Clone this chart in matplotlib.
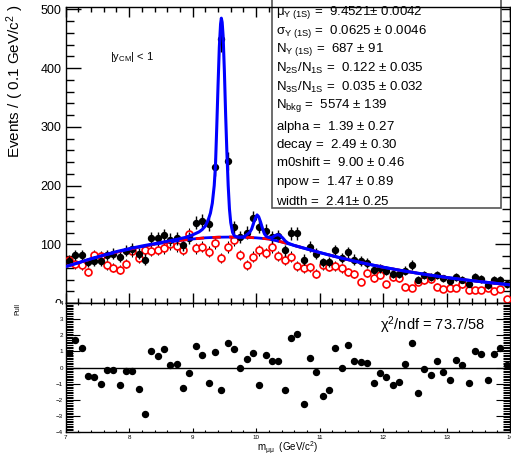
import numpy as np
import matplotlib
matplotlib.use('Agg')
import matplotlib.pyplot as plt
from matplotlib.patches import Rectangle
from matplotlib.ticker import MultipleLocator
from matplotlib.transforms import Bbox, TransformedBbox

plt.rcParams['font.family'] = ['Liberation Sans', 'DejaVu Sans']
plt.rcParams['mathtext.fontset'] = 'custom'
plt.rcParams['mathtext.rm'] = 'Liberation Sans'
plt.rcParams['mathtext.it'] = 'Liberation Sans:italic'
plt.rcParams['mathtext.default'] = 'regular'

# binning: 70 bins of 0.1 GeV from 7 to 14
bin_lo = 7.0
bin_w = 0.1
n_bins = 70

data_counts = [71, 82, 81, 69, 72, 71, 82, 84, 79, 89,
               92, 84, 74, 111, 110, 116, 108, 110, 98, 111,
               137, 139, 134, 231, 449, 242, 129, 112, 120, 144,
               130, 123, 112, 114, 90, 119, 119, 74, 96, 84,
               69, 70, 90, 76, 86, 74, 71, 68, 57, 59,
               55, 50, 49, 55, 65, 40, 48, 44, 48, 42,
               38, 44, 40, 33, 44, 41, 30, 39, 40, 32]

red_counts = [73, 66, 65, 53, 81, 80, 65, 60, 57, 67,
              88, 77, 90, 89, 91, 93, 101, 97, 91, 117,
              93, 96, 87, 102, 77, 95, 107, 82, 65, 79,
              90, 85, 95, 80, 74, 79, 63, 59, 61, 50,
              64, 62, 63, 59, 53, 49, 36, 51, 42, 48,
              32, 44, 42, 28, 25, 36, 39, 41, 28, 23,
              26, 26, 32, 22, 22, 22, 26, 20, 23, 7]

pulls = [0.9, 1.68, 1.18, -0.55, -0.59, -1.05, -0.15, -0.17, -1.09, -0.19,
         -0.19, -1.35, -2.86, 1.05, 0.72, 1.12, 0.15, 0.23, -1.26, -0.36,
         1.31, 0.76, -0.99, 0.99, -1.37, 1.49, 1.16, -0.06, 0.53, 0.91,
         -1.09, 0.78, 0.38, 0.42, -1.39, 1.81, 2.06, -2.27, 0.57, -0.29,
         -1.79, -1.39, 1.24, -0.04, 1.37, 0.38, 0.34, 0.25, -0.99, -0.36,
         -0.59, -1.07, -0.93, 0.19, 1.54, -1.56, -0.08, -0.48, 0.42, -0.27,
         -0.76, 0.48, 0.13, -0.99, 1.03, 0.84, -0.8, 0.82, 1.18, 0.13]

# total fit curve
fit_m = [7.0, 7.2, 7.4, 7.6, 7.8, 8.0, 8.2, 8.4, 8.6, 8.8, 8.9, 9.0, 9.1, 9.15,
         9.2, 9.25, 9.28, 9.31, 9.34, 9.36, 9.38, 9.40, 9.42, 9.44, 9.452,
         9.465, 9.48, 9.50, 9.52, 9.54, 9.56, 9.58, 9.60, 9.63, 9.66, 9.70,
         9.75, 9.80, 9.85, 9.90, 9.93, 9.96, 9.99, 10.015, 10.04, 10.07, 10.10,
         10.13, 10.16, 10.20, 10.25, 10.30, 10.33, 10.355, 10.38, 10.42, 10.46,
         10.50, 10.55, 10.6, 10.7, 10.8, 11.0, 11.25, 11.5, 11.75, 12.0, 12.25,
         12.5, 12.75, 13.0, 13.25, 13.5, 13.75, 14.0]
fit_val = [62, 68.5, 75.5, 81.5, 87.5, 92.5, 97, 101, 105, 109.5, 112, 116, 121, 125,
           131, 143, 153, 170, 200, 235, 300, 370, 435, 475, 485,
           478, 455, 395, 320, 255, 200, 160, 137, 120, 114, 112.5,
           112, 112.5, 116, 120.5, 126, 136, 145, 150, 147, 138, 127,
           118, 113.5, 111.5, 111.5, 115, 116, 116.2, 114.6, 110.6, 105.5,
           102.2, 100, 98, 95, 92, 86, 79, 72.5, 66.5, 61, 56,
           51.5, 47.3, 43.5, 40, 36.8, 33.8, 31]

# background component
bkg_m = [7.0, 7.2, 7.4, 7.6, 7.8, 8.0, 8.2, 8.4, 8.6, 8.8, 9.0, 9.2, 9.4, 9.6,
         9.8, 10.0, 10.2, 10.4, 10.6, 10.8, 11.0, 11.25, 11.5, 11.75, 12.0,
         12.25, 12.5, 12.75, 13.0, 13.25, 13.5, 13.75, 14.0]
bkg_val = [62, 68.5, 75, 81, 86.5, 91.5, 96, 100, 103.5, 106.5, 109, 111, 112, 112.3,
           112, 111, 109, 104, 98, 92, 86, 79, 72.5, 66.5, 61,
           56, 51.5, 47.3, 43.5, 40, 36.8, 33.8, 31]

params = [r'$\mu_{\Upsilon\ (1S)}$ =  9.4521$\pm$ 0.0042',
          r'$\sigma_{\Upsilon\ (1S)}$ =  0.0625 $\pm$ 0.0046',
          r'N$_{\Upsilon\ (1S)}$ =  687 $\pm$ 91',
          r'N$_{2S}$/N$_{1S}$ =  0.122 $\pm$ 0.035',
          r'N$_{3S}$/N$_{1S}$ =  0.035 $\pm$ 0.032',
          r'N$_{bkg}$ =  5574 $\pm$ 139',
          r'alpha =  1.39 $\pm$ 0.27',
          r'decay =  2.49 $\pm$ 0.30',
          r'm0shift =  9.00 $\pm$ 0.46',
          r'npow =  1.47 $\pm$ 0.89',
          r'width =  2.41$\pm$ 0.25']
param_y = [13, 32, 50, 68, 87, 106, 127, 145, 163, 182, 201]

W, H = 511, 453
def fx(x):
    return x / W
def fy(y):
    return 1 - y / H

centres = bin_lo + bin_w * (np.arange(n_bins) + 0.5)
data_counts = np.array(data_counts, dtype=float)
red_counts = np.array(red_counts, dtype=float)

fig = plt.figure(figsize=(W / 100, H / 100), dpi=100)
ax1 = fig.add_axes([fx(65.7), fy(303), fx(510) - fx(65.7), fy(7) - fy(303)])
ax2 = fig.add_axes([fx(65.7), fy(432), fx(510) - fx(65.7), fy(303) - fy(432)])

# upper pad
ax1.errorbar(centres, red_counts, yerr=np.sqrt(red_counts), fmt='o', ms=5,
             mfc='white', mec='#ff0000', mew=1.2, ecolor='black', elinewidth=0.8,
             capsize=0, zorder=3)
ax1.errorbar(centres, data_counts, yerr=np.sqrt(data_counts), fmt='o', ms=4.3,
             color='black', elinewidth=1.0, capsize=0, zorder=4)
ax1.plot(bkg_m, bkg_val, color='#0000ff', lw=2.0, zorder=5)
ax1.plot(bkg_m, bkg_val, color='#ff0000', lw=2.0, ls=(0, (3, 3)), zorder=5)
ax1.plot(fit_m, fit_val, color='#0000ff', lw=2.2, zorder=6)

ax1.set_xlim(7, 14)
ax1.set_ylim(0, 504)
ax1.set_yticks([0, 100, 200, 300, 400, 500])
ax1.xaxis.set_major_locator(MultipleLocator(1))
ax1.xaxis.set_minor_locator(MultipleLocator(0.2))
ax1.yaxis.set_minor_locator(MultipleLocator(20))
ax1.tick_params(axis='x', which='both', direction='in', top=True, labelbottom=False)
ax1.tick_params(axis='x', which='major', length=7, width=1)
ax1.tick_params(axis='x', which='minor', length=3.5, width=1)
ax1.tick_params(axis='y', which='both', direction='in', right=True, labelsize=9, pad=3)
ax1.tick_params(axis='y', which='major', length=11, width=1)
ax1.tick_params(axis='y', which='minor', length=5.5, width=1)
for s in ax1.spines.values():
    s.set_linewidth(1.0)

fig.text(fx(15), fy(5), r'Events / ( 0.1 GeV/c$^{2}$ )', rotation=90,
         ha='center', va='top', fontsize=11)
ax1.text(fx(110), fy(57), r'|y$_{CM}$| < 1', transform=fig.transFigure,
         ha='left', va='center', fontsize=8)

box = Rectangle((fx(272), fy(208)), fx(500.7) - fx(272), fy(-5) - fy(208),
                transform=fig.transFigure, facecolor='white', edgecolor='#555555',
                lw=1.2, clip_on=False, zorder=2.2)
ax1.add_patch(box)
for txt, yy in zip(params, param_y):
    ax1.text(fx(276), fy(yy), txt, transform=fig.transFigure, ha='left',
             va='center', fontsize=9.5, zorder=7)

# lower pad (pulls)
ax2.plot(centres, pulls, 'o', color='black', ms=4.3, zorder=3)
ax2.axhline(0, color='black', lw=1.0)
ax2.set_xlim(7, 14)
ax2.set_ylim(-4, 4)
ax2.set_yticks(range(-4, 5))
ax2.xaxis.set_major_locator(MultipleLocator(1))
ax2.xaxis.set_minor_locator(MultipleLocator(0.2))
ax2.yaxis.set_minor_locator(MultipleLocator(0.1))
ax2.tick_params(axis='both', which='both', direction='in', top=True, right=True,
                labelsize=4.5, pad=2)
ax2.tick_params(axis='x', which='major', length=3, width=0.8)
ax2.tick_params(axis='x', which='minor', length=1.5, width=0.8)
ax2.tick_params(axis='y', which='major', length=10, width=0.8)
ax2.tick_params(axis='y', which='minor', length=5, width=0.8)
for s in ax2.spines.values():
    s.set_linewidth(1.0)

fig.text(fx(17.7), fy(303), 'Pull', rotation=90, ha='center', va='top', fontsize=5)
fig.text(fx(257), fy(449), r'm$_{\mu\mu}$  (GeV/c$^{2}$)', ha='left', va='center',
         fontsize=7)
ax2.text(fx(380), fy(325), r'$\chi^{2}$/ndf = 73.7/58', transform=fig.transFigure,
         ha='left', va='center', fontsize=10.5)

# the 0 label of the upper pad is half hidden by the lower pad
fig.canvas.draw()
clip = TransformedBbox(Bbox([[0, fy(303)], [1, 1]]), fig.transFigure)
for lab in ax1.get_yticklabels():
    if lab.get_text() == '0':
        lab.set_clip_box(clip)
        lab.set_clip_on(True)

fig.savefig('out.png', dpi=100)
